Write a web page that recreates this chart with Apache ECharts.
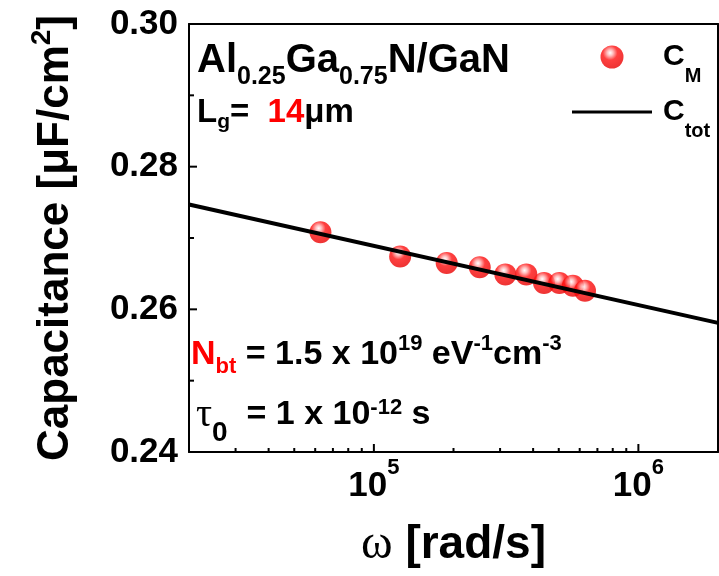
<!DOCTYPE html>
<html>
<head>
<meta charset="utf-8">
<script src="https://cdn.jsdelivr.net/npm/echarts@6/dist/echarts.min.js"></script>
<style>
html, body { margin: 0; padding: 0; background: #fff; }
#chart { width: 719px; height: 576px; }
</style>
</head>
<body>
<div id="chart"></div>
<script>
// Angular frequency ω (rad/s) of the measured points (10 kHz ... 100 kHz)
const omega = [6.28e4, 1.257e5, 1.885e5, 2.513e5, 3.142e5, 3.770e5, 4.398e5, 5.027e5, 5.655e5, 6.283e5];
// Measured capacitance C_M (μF/cm²)
const capMeasured = [0.2708, 0.2674, 0.2665, 0.2659, 0.2649, 0.2649, 0.2637, 0.2637, 0.2633, 0.2626];
// Model C_tot: a straight line in log ω across the plotted range
const omegaModel = [2e4, 2e6];
const capModel = [0.2747, 0.2581];

// Axis settings
const xMin = 2e4, xMax = 2e6;
const xMajorTicks = [1e5, 1e6];
const xMajorExponents = ['5', '6'];
const xMinorTicks = [3e4, 4e4, 5e4, 6e4, 7e4, 8e4, 9e4, 2e5, 3e5, 4e5, 5e5, 6e5, 7e5, 8e5, 9e5];
const yMin = 0.24, yMax = 0.30, yStep = 0.02;
const yMajorTicks = [0.26, 0.28];
const yMinorTicks = [0.25, 0.27, 0.29];

const SANS = '"Liberation Sans", Arial, sans-serif';
const SERIF = '"Liberation Serif", "Times New Roman", serif';

// rich-text token style; dy shifts the token down (+) or up (-) inside its line
function tok(size, lineHeight, dy, extra) {
  const s = { fontSize: size, fontWeight: 'bold', fontFamily: SANS, color: '#000', fill: '#000', lineHeight: lineHeight };
  if (dy > 0) s.padding = [2 * dy, 0, 0, 0];
  if (dy < 0) s.padding = [0, 0, -2 * dy, 0];
  return Object.assign(s, extra || {});
}
const RED = { color: '#ff0000', fill: '#ff0000' };
const AXIS_LINE = { show: true, onZero: false, lineStyle: { color: '#000', width: 2 } };

// inward tick marks, placed through the axes' own scales
function tickSeries(values, onX, len) {
  return {
    type: 'custom',
    xAxisIndex: 0, yAxisIndex: 0,
    silent: true, clip: false, z: 6,
    legendHoverLink: false,
    data: values.map(function (v) { return onX ? [v, yMin] : [xMin, v]; }),
    renderItem: function (params, api) {
      const p = api.coord([api.value(0), api.value(1)]);
      return {
        type: 'line',
        shape: onX
          ? { x1: p[0], y1: p[1], x2: p[0], y2: p[1] - len }
          : { x1: p[0], y1: p[1], x2: p[0] + len, y2: p[1] },
        style: { stroke: '#000', lineWidth: 2 }
      };
    }
  };
}

const chart = echarts.init(document.getElementById('chart'), null, { renderer: 'canvas' });

const option = {
  animation: false,
  backgroundColor: '#fff',
  grid: { left: 189, right: 1, top: 24, bottom: 124 },
  legend: {
    orient: 'vertical',
    left: 572, top: 28,
    padding: 0,
    itemWidth: 80, itemHeight: 23, itemGap: -3,
    selectedMode: false,
    data: [
      { name: 'C_M' },
      { name: 'C_tot', icon: 'path://M0,0H80V3H0Z' }
    ],
    formatter: function (name) {
      return name === 'C_M' ? '{c|C}{s|M}' : '{c|C}{s|tot}';
    },
    textStyle: {
      color: '#000',
      rich: {
        c: tok(30, 30, 0, { padding: [0, 0, 0, 6] }),
        s: tok(20, 30, 19)
      }
    }
  },
  xAxis: [
    {
      type: 'log', logBase: 10, min: xMin, max: xMax,
      position: 'bottom',
      axisLine: AXIS_LINE,
      axisTick: { show: false },
      minorTick: { show: false },
      splitLine: { show: false },
      axisLabel: {
        customValues: xMajorTicks,
        margin: 14,
        formatter: function (v) {
          const i = xMajorTicks.indexOf(v);
          return i >= 0 ? '{b|10}{sup|' + xMajorExponents[i] + '}' : '';
        },
        rich: {
          b: tok(35, 40, 0),
          sup: tok(22, 40, -18)
        }
      },
      name: '{w|ω}{m| [rad/s]}',
      nameLocation: 'middle',
      nameGap: 68,
      nameTextStyle: {
        rich: {
          w: { fontSize: 48, fontFamily: SERIF, color: '#000', lineHeight: 50 },
          m: tok(46, 50, 0)
        }
      }
    },
    {
      // top frame line
      type: 'log', logBase: 10, min: xMin, max: xMax,
      position: 'top', gridIndex: 0,
      axisLine: AXIS_LINE,
      axisTick: { show: false },
      axisLabel: { show: false },
      splitLine: { show: false }
    }
  ],
  yAxis: [
    {
      type: 'value', min: yMin, max: yMax, interval: yStep,
      position: 'left',
      axisLine: AXIS_LINE,
      axisTick: { show: false },
      minorTick: { show: false },
      splitLine: { show: false },
      axisLabel: {
        margin: 11,
        formatter: function (v) { return v.toFixed(2); },
        fontSize: 35, fontWeight: 'bold', fontFamily: SANS, color: '#000'
      },
      name: '{m|Capacitance [μF/cm}{sp|2}{m|]}',
      nameLocation: 'middle',
      nameRotate: 90,
      nameGap: 108,
      nameTextStyle: {
        rich: {
          m: tok(44, 50, 0),
          sp: tok(28, 50, -14)
        }
      }
    },
    {
      // right frame line
      type: 'value', min: yMin, max: yMax, interval: yStep,
      position: 'right', gridIndex: 0,
      axisLine: AXIS_LINE,
      axisTick: { show: false },
      axisLabel: { show: false },
      splitLine: { show: false }
    }
  ],
  graphic: [
    {
      type: 'text', left: 197, top: 31, silent: true,
      style: {
        text: '{m|Al}{s|0.25}{m|Ga}{s|0.75}{m|N/GaN}',
        rich: { m: tok(40, 44, 0), s: tok(25, 44, 17) }
      }
    },
    {
      type: 'text', left: 197, top: 92, silent: true,
      style: {
        text: '{m|L}{s|g}{m|=  }{r|14}{m|μm}',
        rich: { m: tok(33, 40, 0), s: tok(21, 40, 10), r: tok(33, 40, 0, RED) }
      }
    },
    {
      type: 'text', left: 191, top: 332, silent: true,
      style: {
        text: '{r|N}{rs|bt}{m| = 1.5 x 10}{sp|19}{m| eV}{sp|-1}{m|cm}{sp|-3}',
        rich: {
          m: tok(34, 40, 0),
          r: tok(34, 40, 0, RED),
          rs: tok(22, 40, 12, RED),
          sp: tok(22, 40, -11)
        }
      }
    },
    {
      type: 'text', left: 196, top: 383, silent: true,
      style: {
        text: '{t|τ}{s|0}{m|  = 1 x 10}{sp|-12}{m| s}',
        rich: {
          t: { fontSize: 40, fontFamily: SERIF, color: '#000', fill: '#000', lineHeight: 40 },
          m: tok(34, 40, 0),
          s: tok(28, 40, 18),
          sp: tok(22, 40, -7)
        }
      }
    }
  ],
  series: [
    {
      name: 'C_M',
      type: 'scatter',
      xAxisIndex: 0, yAxisIndex: 0,
      symbol: 'circle',
      symbolSize: 22,
      z: 2,
      itemStyle: {
        color: {
          type: 'radial', x: 0.42, y: 0.32, r: 0.7,
          colorStops: [
            { offset: 0, color: '#ffffff' },
            { offset: 0.18, color: '#ffb0b0' },
            { offset: 0.45, color: '#ff1010' },
            { offset: 1, color: '#e80000' }
          ]
        }
      },
      data: omega.map(function (w, i) { return [w, capMeasured[i]]; })
    },
    {
      name: 'C_tot',
      type: 'line',
      xAxisIndex: 0, yAxisIndex: 0,
      symbol: 'none',
      z: 3,
      color: '#000',
      lineStyle: { color: '#000', width: 4 },
      data: omegaModel.map(function (w, i) { return [w, capModel[i]]; })
    },
    tickSeries(xMajorTicks, true, 8),
    tickSeries(xMinorTicks, true, 4),
    tickSeries(yMajorTicks, false, 8),
    tickSeries(yMinorTicks, false, 5)
  ]
};

chart.setOption(option);
</script>
</body>
</html>
